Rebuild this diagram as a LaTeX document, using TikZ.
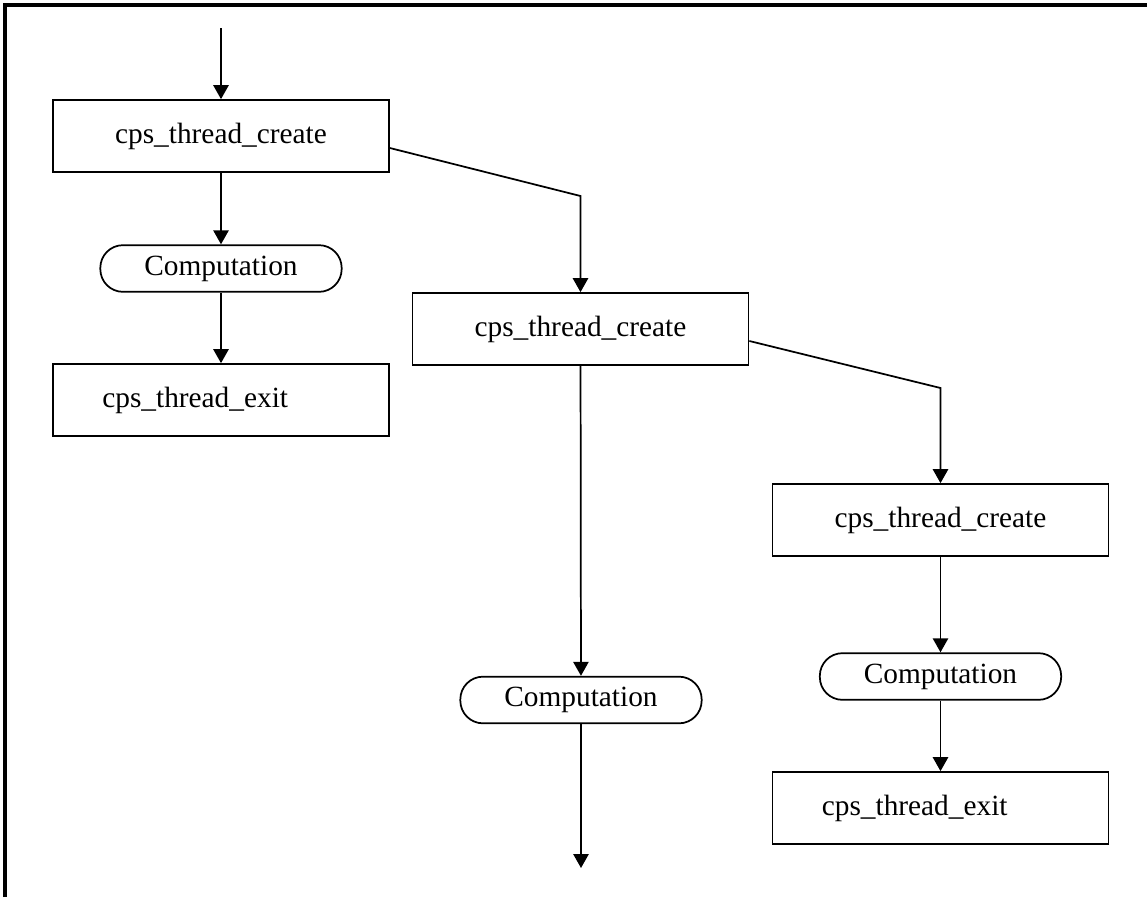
\documentclass[tikz,border=0pt]{standalone}
\usepackage{fontspec}
\setmainfont{Liberation Serif}
\usetikzlibrary{arrows.meta,calc}
\begin{document}
\begin{tikzpicture}[x=0.75pt,y=-0.75pt,
  line width=1.3pt,
  every node/.style={font=\fontsize{22}{26}\selectfont},
  callbox/.style={draw,rectangle,minimum width=252pt,minimum height=54pt,inner sep=0pt},
  exitbox/.style={draw,rectangle,minimum width=252pt,minimum height=54pt,inner xsep=37pt,inner ysep=0pt,text width=178pt,align=left},
  workbox/.style={draw,rectangle,rounded corners=17pt,minimum width=181pt,minimum height=35pt,inner sep=0pt},
  flow/.style={-{Triangle[length=10.5pt,width=11.5pt]}}]
  \useasboundingbox (0,0) rectangle (1147,897);
  % frame
  \draw[line width=3pt] (5,897) -- (5,5) -- (1147,5);

  % left branch
  \coordinate (top) at (221,28);
  \node[callbox] (b1) at (221,136) {cps\_thread\_create};
  \node[workbox] (c1) at (221,268.5) {Computation};
  \node[exitbox] (e1) at (221,400) {cps\_thread\_exit};

  % middle branch
  \node[callbox] (b2) at (580.5,329) {cps\_thread\_create};
  \node[workbox] (c2) at (581,700) {Computation};
  \coordinate (bottom) at (581,868);

  % right branch
  \node[callbox] (b3) at (940.5,520) {cps\_thread\_create};
  \node[workbox] (c3) at (940.5,676.5) {Computation};
  \node[exitbox] (e2) at (940.5,808) {cps\_thread\_exit};

  % bends of the spawn links
  \coordinate (k1) at (580.5,196);
  \coordinate (k2) at (940.5,388);

  \draw[flow] (top) -- (b1);
  \draw[flow] (b1) -- (c1);
  \draw[flow] (c1) -- (e1);
  \draw[flow] ($(b1.east)+(0,12)$) -- (k1) -- (b2.north);
  \draw[flow] (b2) -- (c2);
  \draw[flow] (c2) -- (bottom);
  \draw[flow] ($(b2.east)+(0,12)$) -- (k2) -- (b3.north);
  \draw[flow] (b3) -- (c3);
  \draw[flow] (c3) -- (e2);
\end{tikzpicture}
\end{document}
